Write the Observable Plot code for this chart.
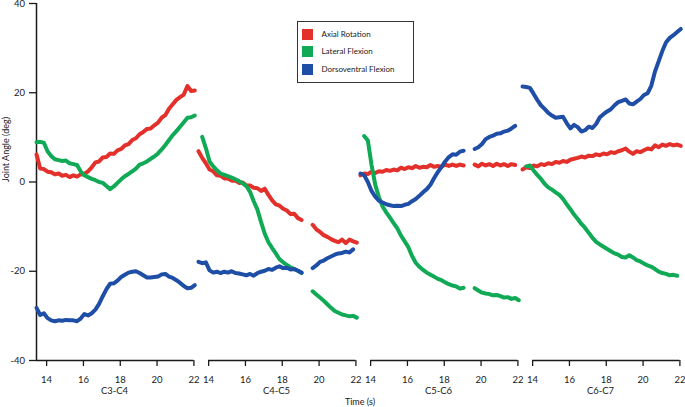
<!DOCTYPE html>
<html>
<head>
<meta charset="utf-8">
<script src="https://cdn.jsdelivr.net/npm/d3@7"></script>
<script src="https://cdn.jsdelivr.net/npm/@observablehq/plot@0.6"></script>
<style>
  html, body { margin: 0; padding: 0; background: #fff; }
  #wrap { position: relative; width: 685px; height: 407px; font-family: Lato, "Open Sans", sans-serif; color: #1a1a1a; }
  #xlabel { position: absolute; left: 35px; width: 650px; top: 397px; height: 10px; line-height: 10px; text-align: center; font-size: 9px; }
  #legend { position: absolute; left: 297px; top: 21px; width: 117px; height: 62px; box-sizing: border-box; border: 1.5px solid #333; background: #fff; }
  #legend .sw { position: absolute; left: 3.5px; width: 11.5px; height: 11px; }
  #legend .lb { position: absolute; left: 23.5px; height: 11px; line-height: 11px; font-size: 8px; white-space: nowrap; color: #1a1a1a; }
</style>
</head>
<body>
<div id="wrap"></div>
<script>
// ---- data ----
const panels = ["C3-C4", "C4-C5", "C5-C6", "C6-C7"];
const seriesNames = ["Axial Rotation", "Lateral Flexion", "Dorsoventral Flexion"];
const seriesColors = ["#e3302a", "#10aa56", "#1f4ea6"];
const xTicks = [14, 16, 18, 20, 22];
const yTicks = [-40, -20, 0, 20, 40];
const axisStart = [13.45, 14, 14, 14];
const axisEnd = 22;
// sampling times (s)
const times = d3.range(44).map(i => +(13.45 + 0.2 * i).toFixed(2));

const c3c4Axial = [6.2, 3.0, 2.9, 2.3, 2.2, 1.7, 1.9, 1.4, 1.6, 1.1, 1.5, 1.2, 1.7, 1.8, 2.4, 3.3, 4.4, 4.6, 5.5, 5.6, 6.4, 6.3, 7.1, 7.4, 8.2, 8.5, 9.4, 9.8, 10.7, 11.2, 11.9, 12.0, 12.7, 13.3, 14.4, 15.0, 16.4, 17.4, 18.4, 19.0, 19.6, 21.5, 20.4, 20.5];
const c3c4Lateral = [8.9, 9.0, 8.8, 6.9, 5.8, 5.1, 4.9, 4.7, 4.8, 4.2, 4.0, 3.8, 2.4, 1.5, 1.1, 0.7, 0.4, 0.0, -0.2, -0.9, -1.6, -1.0, -0.2, 0.6, 1.3, 1.8, 2.4, 3.0, 3.9, 4.2, 4.6, 5.2, 5.7, 6.4, 7.3, 8.3, 9.4, 10.5, 11.4, 12.4, 13.4, 14.4, 14.5, 14.9];
const c3c4Dorsoventral = [-28.2, -29.8, -29.4, -30.5, -31.0, -31.2, -31.0, -31.1, -30.9, -31.0, -31.0, -31.2, -30.6, -29.6, -29.9, -29.4, -28.6, -27.3, -25.6, -24.0, -22.8, -22.7, -22.1, -21.3, -20.8, -20.3, -20.1, -20.0, -20.4, -20.9, -21.4, -21.4, -21.3, -21.2, -20.7, -20.6, -21.2, -21.5, -22.0, -22.6, -23.3, -23.8, -23.7, -23.1];

const c4c5Axial = [6.9, 5.4, 4.2, 2.8, 2.4, 1.5, 1.4, 0.8, 0.8, 0.3, 0.3, -0.2, -0.1, -0.8, -0.8, -1.3, -1.4, -2.0, -1.5, -2.9, -4.1, -5.0, -5.3, -6.0, -6.4, -7.2, -7.1, -8.1, -8.5, null, null, -9.6, -10.6, -11.2, -11.9, -12.3, -12.8, -13.2, -13.5, -12.9, -13.7, -12.9, -13.3, -13.6];
const c4c5Lateral = [null, 10.1, 7.6, 4.6, 3.5, 2.6, 1.9, 1.6, 1.3, 1.0, 0.6, 0.2, -0.3, -0.9, -2.2, -4.3, -6.2, -9.0, -11.6, -13.5, -14.8, -16.0, -17.3, -18.0, -18.6, -19.1, -19.5, -19.9, -20.4, null, null, -24.5, -25.2, -25.9, -26.6, -27.4, -28.2, -28.9, -29.3, -29.7, -29.9, -30.1, -30.0, -30.4];
const c4c5Dorsoventral = [-17.9, -18.2, -18.0, -19.8, -20.3, -20.1, -20.4, -20.1, -20.3, -20.0, -20.4, -20.5, -20.7, -20.9, -20.6, -21.0, -20.4, -20.1, -19.9, -19.5, -19.7, -19.2, -18.9, -19.3, -19.2, -19.6, -19.5, -19.9, -20.3, null, null, -19.3, -18.7, -17.9, -17.6, -17.1, -16.7, -16.3, -16.0, -15.9, -15.6, -15.8, -15.1, null];

const c5c6Axial = [1.5, 1.9, 1.8, 2.3, 2.0, 2.4, 2.3, 2.7, 2.5, 2.8, 2.6, 3.2, 2.9, 3.3, 3.1, 3.6, 3.2, 3.4, 3.3, 3.8, 3.4, 3.6, 3.4, 3.9, 3.6, 3.9, 3.6, 3.9, 3.7, null, null, 3.9, 3.5, 4.1, 3.7, 4.0, 3.6, 4.1, 3.7, 4.0, 3.6, 4.0, 3.8, null];
const c5c6Lateral = [null, 10.3, 9.3, 3.8, -0.6, -3.4, -5.5, -6.8, -8.0, -9.2, -10.4, -12.0, -13.3, -14.6, -16.6, -18.1, -19.0, -19.7, -20.3, -20.8, -21.2, -21.7, -22.0, -22.5, -22.9, -23.2, -23.4, -23.9, -23.7, null, null, -23.8, -24.3, -24.8, -25.0, -25.1, -25.4, -25.3, -25.6, -25.9, -25.8, -26.2, -26.0, -26.5];
const c5c6Dorsoventral = [1.9, 1.5, 0.0, -2.0, -3.3, -4.2, -4.6, -5.0, -5.2, -5.4, -5.3, -5.4, -5.1, -4.9, -4.3, -3.8, -3.1, -2.3, -1.6, -0.6, 0.9, 2.2, 3.4, 4.6, 5.6, 6.2, 6.1, 6.8, 7.0, null, null, 7.4, 7.8, 8.5, 9.6, 10.1, 10.4, 10.8, 10.9, 11.3, 11.5, 12.0, 12.6, null];

const c6c7Axial = [2.8, 3.3, 3.1, 3.7, 3.5, 4.0, 3.8, 4.2, 4.0, 4.5, 4.3, 4.7, 4.5, 5.0, 5.2, 5.4, 5.7, 5.5, 5.9, 5.8, 6.2, 6.0, 6.4, 6.2, 6.7, 6.5, 6.9, 7.1, 7.5, 6.8, 6.3, 6.9, 6.7, 7.1, 7.5, 7.3, 8.2, 7.8, 8.4, 8.1, 8.5, 8.2, 8.4, 8.1];
const c6c7Lateral = [null, 3.5, 3.7, 2.6, 1.6, 0.7, -0.4, -1.2, -1.7, -2.3, -2.9, -3.8, -5.0, -6.1, -7.3, -8.3, -9.4, -10.3, -11.4, -12.5, -13.4, -14.0, -14.5, -15.0, -15.5, -16.0, -16.3, -16.8, -16.9, -16.4, -16.9, -17.5, -17.8, -18.3, -18.7, -19.0, -19.5, -20.1, -20.4, -20.6, -20.9, -20.8, -21.0, null];
const c6c7Dorsoventral = [21.4, 21.3, 21.1, 19.8, 18.4, 17.2, 16.4, 15.5, 14.9, 14.4, 14.5, 14.6, 13.2, 12.0, 12.8, 12.3, 11.3, 11.6, 12.4, 12.1, 13.0, 14.5, 15.2, 15.8, 16.3, 17.2, 17.9, 18.2, 18.5, 17.6, 17.4, 18.0, 18.6, 19.5, 19.9, 21.6, 24.8, 27.1, 29.4, 31.3, 32.3, 32.9, 33.6, 34.3];

const panelSeries = {
  "C3-C4": [c3c4Axial, c3c4Lateral, c3c4Dorsoventral],
  "C4-C5": [c4c5Axial, c4c5Lateral, c4c5Dorsoventral],
  "C5-C6": [c5c6Axial, c5c6Lateral, c5c6Dorsoventral],
  "C6-C7": [c6c7Axial, c6c7Lateral, c6c7Dorsoventral]
};

// ---- table ----
const rows = panels.flatMap(p => seriesNames.flatMap((s, j) =>
  panelSeries[p][j].map((v, i) => ({panel: p, series: s, t: times[i], v: v == null ? NaN : v}))));
const axisRows = panels.map((p, i) => ({panel: p, x1: axisStart[i], x2: axisEnd, y: yTicks[0]}));

const chart = Plot.plot({
  width: 685,
  height: 397,
  marginLeft: 35,
  marginRight: 0,
  marginTop: 3,
  marginBottom: 37,
  style: {fontFamily: "Lato, 'Open Sans', sans-serif", fontSize: "9.5px", color: "#1a1a1a", overflow: "visible", background: "transparent"},
  fx: {domain: panels, padding: 0, axis: null},
  x: {domain: [axisStart[0], 22.25]},
  y: {domain: [yTicks[0], yTicks[yTicks.length - 1]]},
  color: {domain: seriesNames, range: seriesColors},
  marks: [
    Plot.ruleY(axisRows, {fx: "panel", x1: "x1", x2: "x2", y: "y", stroke: "#1a1a1a", strokeWidth: 1.5}),
    Plot.ruleX([{panel: panels[0], t: axisStart[0]}], {fx: "panel", x: "t", stroke: "#1a1a1a", strokeWidth: 1.5}),
    Plot.axisX({ticks: xTicks, tickSize: 6, tickPadding: 9.5, tickFormat: d => String(d), label: null, strokeWidth: 1.3}),
    Plot.axisY({ticks: yTicks, tickSize: 7, tickPadding: 4.5, tickFormat: d => String(d), label: null, strokeWidth: 1.3}),
    Plot.text(panels, {fx: d => d, text: d => d, frameAnchor: "bottom", dy: 33, dx: -3, fontSize: 9.5}),
    Plot.text([{panel: panels[0], label: "Joint Angle (deg)"}], {fx: "panel", text: "label", frameAnchor: "left", rotate: -90, dx: -30, fontSize: 9}),
    Plot.line(rows, {fx: "panel", x: "t", y: "v", z: "series", stroke: "series", strokeWidth: 4, strokeLinejoin: "round", strokeLinecap: "round"})
  ]
});

const wrap = document.getElementById("wrap");
wrap.appendChild(chart);

const xl = document.createElement("div");
xl.id = "xlabel";
xl.textContent = "Time (s)";
wrap.appendChild(xl);

const legend = document.createElement("div");
legend.id = "legend";
const legendTops = [6.5, 23.5, 41.5];
seriesNames.forEach((s, i) => {
  const sw = document.createElement("div");
  sw.className = "sw";
  sw.style.top = legendTops[i] + "px";
  sw.style.background = seriesColors[i];
  legend.appendChild(sw);
  const lb = document.createElement("div");
  lb.className = "lb";
  lb.style.top = legendTops[i] + "px";
  lb.textContent = s;
  legend.appendChild(lb);
});
wrap.appendChild(legend);
</script>
</body>
</html>
